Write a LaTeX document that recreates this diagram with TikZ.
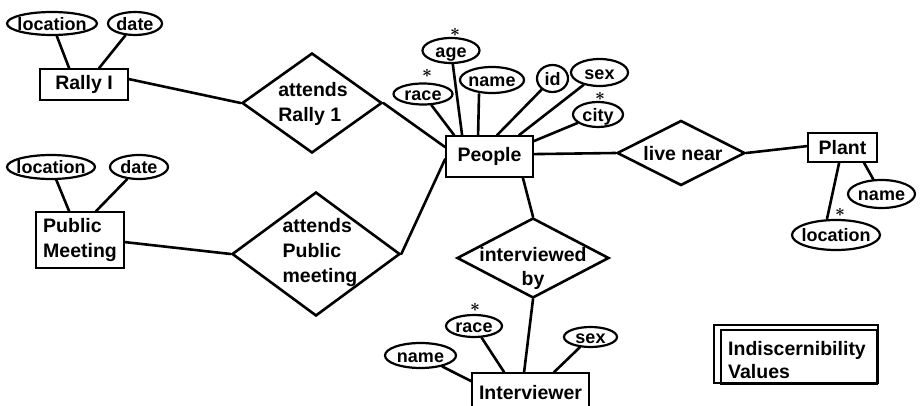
\documentclass[tikz,border=0pt]{standalone}
\usepackage{fontspec}
\setmainfont{Liberation Sans}
\usetikzlibrary{shapes.geometric}
\tikzset{
  conn/.style={line width=2.6pt, line cap=round},
  attr/.style={draw, ellipse, line width=2.2pt, inner xsep=-4pt, inner ysep=-4pt,
    font=\fontsize{18}{20}\selectfont\bfseries, text height=13.5pt, text depth=0pt},
  ent/.style={draw, rectangle, line width=1.8pt, inner sep=0pt,
    font=\fontsize{19.5}{25}\selectfont\bfseries},
  rel/.style={draw, diamond, line width=2.6pt, inner sep=0pt},
  reltext/.style={inner sep=0pt, font=\fontsize{19.5}{25}\selectfont\bfseries, align=left},
  keymark/.style={inner sep=0pt, font=\fontsize{17}{17}\selectfont\boldmath},
}
\begin{document}
\begin{tikzpicture}[x=1pt,y=-1pt]
\useasboundingbox (0,0) rectangle (922,406);
\clip (0,0) rectangle (922,406);

% entities
\node[ent, minimum width=88pt, minimum height=31pt] (rally) at (84,84.5) {Rally I\hspace{6pt}};
\node[ent, minimum width=87pt, minimum height=41pt] (people) at (489.5,156.5) {People};
\node[ent, minimum width=88pt, minimum height=56pt, align=left] (pm) at (80,240) {Public\\Meeting};
\node[ent, minimum width=69pt, minimum height=29pt] (plant) at (842.5,147.5) {Plant};
\node[ent, minimum width=117pt, minimum height=40pt] (iv) at (530.5,393) {Interviewer};

% relationships
\node[rel, minimum width=140pt, minimum height=100pt] (d1) at (312,103) {};
\node[reltext] (d1t) at (313,104) {attends\\Rally 1};
\node[rel, minimum width=168pt, minimum height=124pt] (d2) at (316,254) {};
\node[reltext] (d2t) at (320,253) {attends\\Public\\meeting};
\node[rel, minimum width=128pt, minimum height=65pt] (d3) at (681,153) {};
\node[reltext] (d3t) at (683,154) {live near};
\node[rel, minimum width=152pt, minimum height=80pt] (d4) at (533,258) {};
\node[reltext, align=center, font=\fontsize{19.5}{24}\selectfont\bfseries] (d4t) at (533,268) {interviewed\\by};

% attributes
\node[attr, minimum width=90pt, minimum height=23pt] (rloc) at (52,23.5) {location};
\node[attr, minimum width=54pt, minimum height=23pt] (rdate) at (135,23.5) {date};
\node[attr, minimum width=88pt, minimum height=24pt] (pmloc) at (51,167) {location};
\node[attr, minimum width=58pt, minimum height=24pt] (pmdate) at (139,167) {date};
\node[attr, minimum width=59pt, minimum height=21pt] (race) at (423,94) {race};
\node[attr, minimum width=57pt, minimum height=25pt] (age) at (451,50.5) {age};
\node[attr, minimum width=64pt, minimum height=26pt] (pname) at (492,80) {name};
\node[attr, minimum width=31pt, minimum height=27pt] (id) at (552.5,78.5) {id};
\node[attr, minimum width=57pt, minimum height=27pt] (sex) at (599.5,72.5) {sex};
\node[attr, minimum width=50pt, minimum height=25pt] (city) at (598,114.5) {city};
\node[attr, minimum width=67pt, minimum height=28pt] (plname) at (881.5,194) {name};
\node[attr, minimum width=88pt, minimum height=30pt] (plloc) at (836,235) {location};
\node[attr, minimum width=56pt, minimum height=22pt] (irace) at (474,326) {race};
\node[attr, minimum width=71pt, minimum height=25pt] (iname) at (420.5,355.5) {name};
\node[attr, minimum width=53pt, minimum height=20pt] (isex) at (590.5,337) {sex};

% key marks
\node[keymark] (k1) at (427,73) {$\ast$};
\node[keymark] (k2) at (455,32) {$\ast$};
\node[keymark] (k3) at (600,96) {$\ast$};
\node[keymark] (k4) at (840,212) {$\ast$};
\node[keymark] (k5) at (475,307) {$\ast$};

% legend box
\node[draw, rectangle, line width=1.5pt, minimum width=164pt, minimum height=58pt, inner sep=0pt] (ind) at (796,354) {};
\draw[line width=2pt] ([shift={(8pt,-6pt)}]ind.north west) rectangle ([xshift=-2pt]ind.south east);
\node[reltext, anchor=north west, font=\fontsize{19.5}{23}\selectfont\bfseries] (indt) at (728,341) {Indiscernibility\\Values};

% connectors
\draw[conn] (rloc) -- ([xshift=30pt]rally.north west);
\draw[conn] (rdate) -- ([xshift=60pt]rally.north west);
\draw[conn] ([yshift=-11pt]rally.north east) -- (d1.west);
\draw[conn] (d1.east) -- ([yshift=-12pt]people.north west);
\draw[conn] (pmloc) -- ([xshift=34pt]pm.north west);
\draw[conn] (pmdate) -- ([xshift=61pt]pm.north west);
\draw[conn] ([yshift=-31pt]pm.north east) -- (d2.west);
\draw[conn] (d2.east) -- ([yshift=-24pt]people.north west);
\draw[conn] (race) -- ([xshift=9pt]people.north west);
\draw[conn] (age) -- ([xshift=17pt]people.north west);
\draw[conn] ([xshift=-13pt]pname.south) -- ([xshift=33pt]people.north west);
\draw[conn] (id) -- ([xshift=52pt]people.north west);
\draw[conn] (sex) -- ([xshift=74pt]people.north west);
\draw[conn] (city) -- ([yshift=-6pt]people.north east);
\draw[conn] ([yshift=-19pt]people.north east) -- (d3.west);
\draw[conn] ([xshift=-11pt]people.south east) -- (d4.north);
\draw[conn] (d3.east) -- ([yshift=-14pt]plant.north west);
\draw[conn] ([xshift=32pt]plant.south west) -- ([xshift=-9pt]plloc.north);
\draw[conn] ([xshift=57pt]plant.south west) -- (plname);
\draw[conn] (d4.south) -- ([xshift=53pt]iv.north west);
\draw[conn] (iname) -- ([yshift=-9pt]iv.north west);
\draw[conn] (irace) -- ([xshift=33pt]iv.north west);
\draw[conn] (isex) -- ([xshift=83pt]iv.north west);
\end{tikzpicture}
\end{document}
